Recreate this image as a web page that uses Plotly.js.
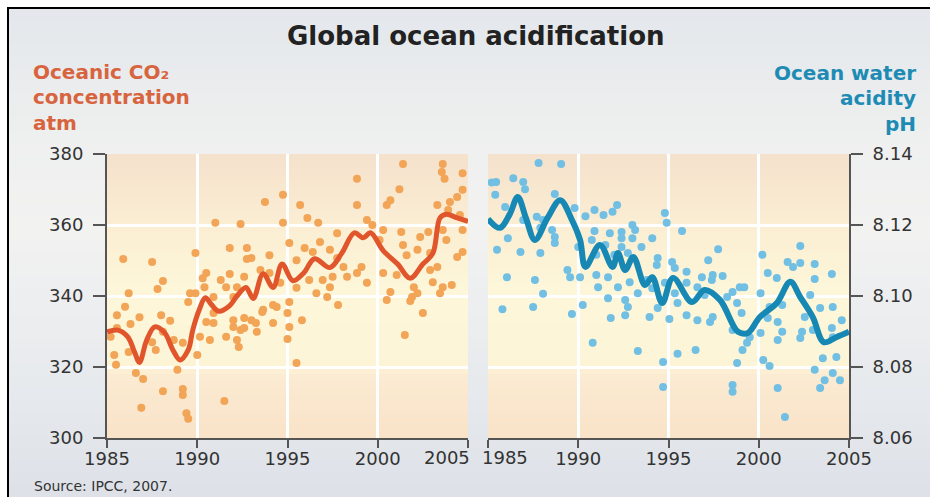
<!DOCTYPE html>
<html>
<head>
<meta charset="utf-8">
<script src="https://cdn.plot.ly/plotly-3.0.1.min.js"></script>
<style>html,body{margin:0;padding:0;background:#fff;}#chart{width:930px;height:497px;}</style>
</head>
<body>
<div id="chart"></div>
<script>
// ---------- DATA ----------
const xTicks = [1985, 1990, 1995, 2000, 2005];
const co2Ticks = [300, 320, 340, 360, 380];
const phTicks = [8.06, 8.08, 8.10, 8.12, 8.14];

// Oceanic CO2 concentration (atm) – individual measurements
const co2Years = [1985.55,1986.3,1986.8,1988.0,1988.5,1985.55,1985.4,1985.5,1986.6,1987.0,1988.1,1986.9,1988.9,1989.2,1989.2,1989.4,1989.5,1991.5,1990.0,1990.7,1990.9,1992.0,1992.2,1990.15,1987.5,1987.7,1988.7,1986.2,1988.1,1989.2,1985.9,1987.5,1986.2,1987.8,1988.1,1989.9,1991.0,1992.4,1991.8,1992.75,1992.75,1990.5,1991.8,1990.3,1989.9,1989.6,1990.4,1991.3,1991.6,1990.9,1992.0,1989.5,1990.9,1992.0,1992.4,1990.5,1991.6,1993.75,1994.75,1995.7,1996.1,1996.7,1994.75,1998.85,1998.85,1999.4,1999.7,2001.2,2001.4,2000.5,2000.7,2003.6,2003.55,2003.7,2004.7,2004.7,2003.3,2004.0,2004.4,2003.9,2004.55,2004.7,2003.6,2003.8,2004.7,2004.4,2002.8,2002.35,2001.3,2001.4,2000.3,2000.1,2001.6,2002.2,2002.9,2002.9,2003.3,2003.05,2003.6,2004.1,2003.45,2002.0,2001.9,2000.5,2000.7,2001.05,2000.3,1999.4,1999.1,1998.85,1998.3,1998.1,1997.75,1997.8,1997.35,1997.2,1996.6,1997.5,1996.95,1996.2,1995.5,1995.1,1994.6,1994.0,1993.5,1993.0,1994.0,1995.5,1995.95,1996.8,1997.75,1997.35,1996.4,1995.1,1994.2,1993.65,1993.0,1992.6,1994.2,1995.0,1995.1,1995.8,1993.3,1992.6,1992.2,2002.5,2001.5,2002.2,2001.8,1995.0,1993.6,1993.25,1992.6,1992.3,1995.5,1994.4,1985.2,1986.0];
const co2Values = [334.6,332.1,334.0,334.6,333.0,331.0,323.4,320.6,318.3,316.6,313.2,308.5,319.2,313.8,312.1,307.0,305.4,310.4,323.4,327.6,332.4,331.3,327.6,328.5,327.0,324.8,327.6,324.2,329.9,326.8,350.4,349.6,340.8,342.0,344.2,352.1,360.6,360.3,353.5,353.5,350.4,346.5,346.2,345.0,340.8,340.8,342.5,344.5,342.5,339.7,339.7,338.3,335.2,333.2,330.4,332.7,328.5,366.5,368.5,365.6,362.0,360.6,360.6,373.0,365.6,361.4,360.0,370.1,377.2,365.6,367.0,377.2,374.9,373.0,374.6,369.9,365.6,366.5,367.9,364.2,362.8,358.6,358.6,355.8,352.4,351.0,358.0,356.6,358.0,354.4,358.6,355.8,351.5,353.0,352.1,347.3,348.2,343.9,342.5,343.1,340.8,342.5,339.7,338.9,341.1,345.9,346.5,343.7,348.2,346.5,345.4,348.2,350.7,337.5,342.5,339.7,340.8,345.4,344.5,344.5,342.3,338.3,343.7,346.5,347.3,350.7,351.5,350.1,353.5,355.2,357.7,353.0,352.4,354.9,337.5,336.1,333.2,331.0,332.4,335.2,331.3,333.2,329.9,345.4,342.5,335.2,329.0,340.8,338.6,327.9,335.5,332.4,333.8,325.6,321.1,336.9,328.5,337.0];

// Oceanic CO2 concentration – smoothed curve
const co2TrendYears = [1985.0,1985.6,1986.15,1986.55,1986.8,1987.2,1987.65,1988.2,1988.65,1989.05,1989.5,1989.75,1990.1,1990.45,1990.8,1991.2,1991.8,1992.2,1992.7,1993.1,1993.65,1994.2,1994.7,1995.3,1995.9,1996.5,1997.35,1998.0,1998.7,1999.2,1999.6,2000.3,2001.1,2001.8,2002.5,2003.05,2003.45,2003.8,2004.4,2005.0];
const co2TrendValues = [329.9,330.4,328.5,323.9,321.3,327.6,331.3,329.6,324.8,322.0,324.8,330.4,336.0,339.5,337.5,335.7,337.3,340.0,342.4,339.3,346.3,342.4,349.0,344.3,346.5,350.5,348.0,352.0,357.8,356.4,357.8,352.8,349.0,345.0,349.0,352.0,362.0,363.0,362.0,361.0];

// Ocean water acidity (pH) – individual measurements
const phYears = [1987.8,1989.05,1985.45,1986.4,1986.95,1987.05,1985.4,1988.7,1985.95,1987.7,1988.05,1986.95,1989.8,1990.9,1991.4,1991.9,1992.15,1990.4,1994.8,1994.9,1995.75,1993.0,1992.4,1993.15,1991.75,1990.9,1986.1,1988.7,1988.55,1987.9,1992.4,1993.0,1994.1,1990.75,1991.5,1992.4,1993.5,1985.5,1986.8,1987.9,1988.7,1990.0,1991.0,1992.0,1992.75,1994.4,1995.2,1997.2,1994.35,1995.35,1996.0,1996.85,1997.45,1989.4,1990.1,1989.55,1991.0,1991.65,1991.1,1992.2,1992.85,1993.3,1993.8,1994.1,1994.8,1995.35,1996.0,1996.6,1997.0,1986.05,1987.6,1988.05,1987.5,1985.8,1989.65,1990.25,1991.65,1992.6,1992.75,1992.6,1993.95,1995.05,1996.0,1996.6,1997.3,1994.4,1995.5,1990.8,1991.8,1993.3,1994.7,1994.7,1995.5,1996.5,1997.75,2000.2,2002.3,2001.6,2002.3,2003.1,1998.0,1997.4,1998.95,1999.2,2000.5,2001.0,2001.9,2003.1,2004.05,2000.1,2002.85,1998.55,1998.25,1998.8,1997.45,1999.05,2000.6,2000.5,2001.3,2002.55,2003.4,2004.1,2004.6,2001.05,2001.3,2000.1,2002.4,2003.0,2004.05,2004.1,1998.55,1999.5,1999.35,1999.1,1998.8,1998.55,1998.55,2000.25,2000.6,2001.05,2001.05,2001.45,2002.3,2003.55,2004.3,2003.1,2003.65,2003.4,2004.1,2004.5,1985.2];
const phValues = [8.1375,8.1372,8.1321,8.1332,8.1321,8.1301,8.1285,8.1287,8.1251,8.1223,8.1214,8.1214,8.1248,8.1242,8.1228,8.1237,8.1256,8.1225,8.1234,8.1206,8.1183,8.1200,8.1180,8.1186,8.1177,8.1183,8.1163,8.1166,8.1186,8.1192,8.1163,8.1163,8.1163,8.1158,8.1144,8.1138,8.1138,8.1130,8.1124,8.1121,8.1149,8.1138,8.1116,8.1116,8.1121,8.1107,8.1096,8.1101,8.1087,8.1079,8.1068,8.1053,8.1059,8.1073,8.1053,8.1053,8.1059,8.1053,8.1025,8.1025,8.1039,8.1008,8.1045,8.1022,8.1037,8.1008,8.1037,8.1025,8.1003,8.1053,8.1045,8.1006,8.0969,8.0963,8.0949,8.0975,8.0994,8.0989,8.0969,8.0946,8.0941,8.0935,8.0946,8.0932,8.0927,8.0966,8.0980,8.0868,8.0938,8.0845,8.0814,8.0744,8.0837,8.0848,8.1132,8.1116,8.1141,8.1096,8.1093,8.1090,8.1056,8.1045,8.1025,8.1025,8.1065,8.1051,8.1082,8.1048,8.1062,8.1008,8.1003,8.1011,8.0997,8.0980,8.0941,8.0952,8.0969,8.0938,8.0975,8.0941,8.0966,8.0969,8.0932,8.0927,8.0899,8.0896,8.0899,8.0904,8.0910,8.0884,8.0904,8.0884,8.0868,8.0848,8.0811,8.0749,8.0730,8.0820,8.0803,8.0876,8.0741,8.0659,8.0882,8.0825,8.0828,8.0792,8.0763,8.0741,8.0783,8.0763,8.1320];

// Ocean water acidity – smoothed curve
const phTrendYears = [1985.0,1985.65,1986.2,1986.65,1987.1,1987.6,1988.3,1989.0,1989.65,1990.1,1990.4,1991.2,1991.9,1992.2,1992.6,1993.05,1993.7,1994.1,1994.65,1995.25,1996.3,1997.0,1997.85,1998.85,1999.4,2000.05,2001.0,2001.75,2002.3,2003.0,2003.6,2004.3,2005.0];
const phTrendValues = [8.1217,8.1192,8.1230,8.1279,8.1220,8.1158,8.1220,8.1270,8.1214,8.1158,8.1082,8.1144,8.1082,8.1121,8.1073,8.1110,8.1031,8.1053,8.0980,8.1051,8.0983,8.1017,8.0989,8.0899,8.0896,8.0940,8.0980,8.1040,8.0997,8.0940,8.0870,8.0884,8.0899];

// ---------- STYLE ----------
const W = 930, H = 497;
const FONT = "DejaVu Sans";
const ORANGE_LINE = "#e0552b", ORANGE_DOT = "#f2a457";
const BLUE_LINE = "#1688b3", BLUE_DOT = "#72bfe4";
const ORANGE_TXT = "#d8643e", BLUE_TXT = "#1e8bb5";
const px = v => v / W;
const py = v => 1 - v / H;

function hexToRgb(h){return [parseInt(h.slice(1,3),16),parseInt(h.slice(3,5),16),parseInt(h.slice(5,7),16)];}
function lerpColor(stops, t){
  for(let i=0;i<stops.length-1;i++){
    const [t0,c0]=stops[i],[t1,c1]=stops[i+1];
    if(t>=t0 && t<=t1){
      const f=(t-t0)/(t1-t0||1), a=hexToRgb(c0), b=hexToRgb(c1);
      return "rgb("+a.map((v,k)=>Math.round(v+(b[k]-v)*f)).join(",")+")";
    }
  }
  return stops[stops.length-1][1];
}
function bands(xref, yref, x0, x1, y0, y1, stops, n){
  const out=[];
  for(let i=0;i<n;i++){
    const a=y0+(y1-y0)*i/n, b=y0+(y1-y0)*(i+1)/n+ (i<n-1?(y1-y0)*0.002:0);
    out.push({type:"rect",xref:xref,yref:yref,x0:x0,x1:x1,y0:a,y1:b,
      fillcolor:lerpColor(stops,(i+0.5)/n),line:{width:0},layer:"below"});
  }
  return out;
}
// plot background (bottom -> top)
const plotStops = [[0,"#f9e3c8"],[0.22,"#fbebd2"],[0.27,"#fdf5d7"],[0.55,"#fdf6d8"],[0.78,"#faecd2"],[1,"#f5e1cc"]];
// page background (bottom -> top)
const pageStops = [[0,"#dde2e8"],[0.2,"#e6e9ed"],[0.55,"#f2f2f1"],[0.75,"#eeefef"],[1,"#e3e7eb"]];

const shapes = []
  .concat(bands("paper","paper",px(8),1,0,py(8),pageStops,40))
  .concat(bands("x domain","y domain",0,1,0,1,plotStops,40))
  .concat(bands("x2 domain","y2 domain",0,1,0,1,plotStops,40))
  .concat([
    {type:"line",xref:"paper",yref:"paper",x0:px(7),x1:1,y0:py(8),y1:py(8),line:{color:"#000",width:2},layer:"above"},
    {type:"line",xref:"paper",yref:"paper",x0:px(8),x1:px(8),y0:0,y1:py(7),line:{color:"#000",width:2},layer:"above"}
  ]);

const axisCommon = {
  showgrid:true, gridcolor:"#ffffff", gridwidth:3, zeroline:false,
  showline:true, linecolor:"#555", linewidth:2,
  ticks:"outside", tickcolor:"#555", tickwidth:2,
  tickfont:{family:FONT,size:18,color:"#333"}, fixedrange:true
};
const minorEdge = v => ({tickvals:[v], ticks:"outside", ticklen:8, tickwidth:2, tickcolor:"#555", showgrid:false});

const labelFont = c => ({family:FONT,size:20,color:c,weight:"bold"});
const layout = {
  width:W, height:H, margin:{l:0,r:0,t:0,b:0},
  paper_bgcolor:"#ffffff", plot_bgcolor:"rgba(0,0,0,0)",
  showlegend:false,
  xaxis:Object.assign({},axisCommon,{domain:[px(107),px(468)],range:[1985,2005],anchor:"y",
    tickvals:xTicks.filter(v=>v!==2005), ticklen:8, ticklabelstandoff:-5, minor:minorEdge(2005)}),
  yaxis:Object.assign({},axisCommon,{domain:[1-438/H,1-154/H],range:[300,380],anchor:"x",
    tickvals:co2Ticks, ticklen:12, ticklabelstandoff:6}),
  xaxis2:Object.assign({},axisCommon,{domain:[px(488),px(849)],range:[1985,2005],anchor:"y2",
    tickvals:xTicks.filter(v=>v!==1985), ticklen:8, ticklabelstandoff:-5, minor:minorEdge(1985)}),
  yaxis2:Object.assign({},axisCommon,{domain:[1-438/H,1-154/H],range:[8.06,8.14],anchor:"x2",side:"right",
    tickvals:phTicks, tickformat:".2f", ticklen:12, ticklabelstandoff:6}),
  shapes:shapes,
  annotations:[
    {text:"Global ocean acidification",xref:"paper",yref:"paper",x:px(476),y:py(36),xanchor:"center",yanchor:"middle",showarrow:false,
     font:{family:FONT,size:26,color:"#222",weight:"bold"}},
    {text:"Oceanic CO₂",xref:"paper",yref:"paper",x:px(31),y:py(72),xanchor:"left",yanchor:"middle",showarrow:false,font:labelFont(ORANGE_TXT)},
    {text:"concentration",xref:"paper",yref:"paper",x:px(31),y:py(97),xanchor:"left",yanchor:"middle",showarrow:false,font:labelFont(ORANGE_TXT)},
    {text:"atm",xref:"paper",yref:"paper",x:px(31),y:py(123),xanchor:"left",yanchor:"middle",showarrow:false,font:labelFont(ORANGE_TXT)},
    {text:"Ocean water",xref:"paper",yref:"paper",x:px(918),y:py(73),xanchor:"right",yanchor:"middle",showarrow:false,font:labelFont(BLUE_TXT)},
    {text:"acidity",xref:"paper",yref:"paper",x:px(918),y:py(98),xanchor:"right",yanchor:"middle",showarrow:false,font:labelFont(BLUE_TXT)},
    {text:"pH",xref:"paper",yref:"paper",x:px(918),y:py(124),xanchor:"right",yanchor:"middle",showarrow:false,font:labelFont(BLUE_TXT)},
    {text:"2005",xref:"x",yref:"paper",x:2005,xshift:4,y:py(457),xanchor:"right",yanchor:"middle",showarrow:false,
     font:{family:FONT,size:18,color:"#333"}},
    {text:"1985",xref:"x2",yref:"paper",x:1985,xshift:-8,y:py(457),xanchor:"left",yanchor:"middle",showarrow:false,
     font:{family:FONT,size:18,color:"#333"}},
    {text:"Source: IPCC, 2007.",xref:"paper",yref:"paper",x:px(32),y:py(486),xanchor:"left",yanchor:"middle",showarrow:false,
     font:{family:FONT,size:14,color:"#333"}}
  ]
};

const traces = [
  {type:"scatter",mode:"markers",x:co2Years,y:co2Values,xaxis:"x",yaxis:"y",
   marker:{color:ORANGE_DOT,size:8,line:{width:0}},hoverinfo:"skip",cliponaxis:true},
  {type:"scatter",mode:"lines",x:co2TrendYears,y:co2TrendValues,xaxis:"x",yaxis:"y",
   line:{color:ORANGE_LINE,width:5,shape:"spline",smoothing:1},hoverinfo:"skip"},
  {type:"scatter",mode:"markers",x:phYears,y:phValues,xaxis:"x2",yaxis:"y2",
   marker:{color:BLUE_DOT,size:8,line:{width:0}},hoverinfo:"skip",cliponaxis:true},
  {type:"scatter",mode:"lines",x:phTrendYears,y:phTrendValues,xaxis:"x2",yaxis:"y2",
   line:{color:BLUE_LINE,width:6,shape:"spline",smoothing:1},hoverinfo:"skip"}
];

Plotly.newPlot("chart", traces, layout, {displayModeBar:false, staticPlot:true});
</script>
</body>
</html>
